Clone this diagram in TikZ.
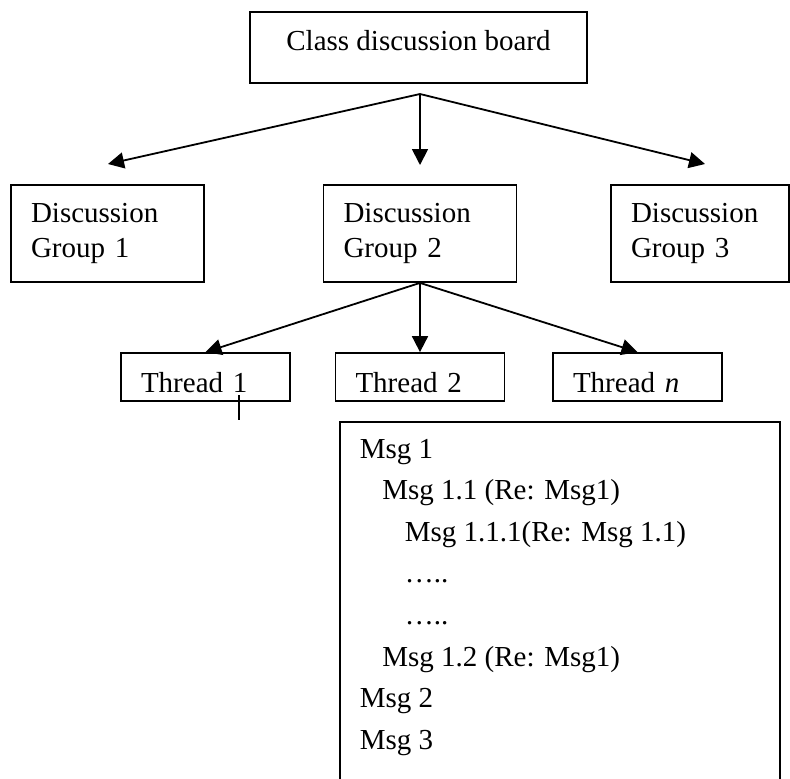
\documentclass[tikz,border=0pt]{standalone}
\usepackage{fontspec}
\setmainfont{Liberation Serif}
\usetikzlibrary{arrows.meta}

\begin{document}
\begin{tikzpicture}[x=0.5pt,y=-0.5pt,
        line width=0.9pt,
        box/.style={draw,inner xsep=10pt,inner ysep=0pt},
        groupbox/.style={box,align=left,minimum height=48.5pt,
            font=\fontsize{14.5}{17.5}\selectfont},
        threadbox/.style={box,align=left,text width=64.5pt,
            text height=19.5pt,text depth=4.5pt},
        msgline/.style={anchor=base west,inner sep=0pt},
        arr/.style={-{Triangle[length=8pt,width=8pt]}}]
    \fontsize{14.5}{17.5}\selectfont
    \useasboundingbox (0,0) rectangle (790,778);

    \node [box,inner ysep=9pt,text height=10pt,text depth=7.5pt,
        minimum width=168.5pt] (board) at (418.5,47.5) {Class discussion board};

    \node [groupbox,text width=76.5pt] (g1) at (107.5,233.5) {Discussion\\Group 1};
    \node [groupbox,text width=76.5pt] (g2) at (420,233.5) {Discussion\\Group 2};
    \node [groupbox,text width=69pt] (g3) at (700,233.5) {Discussion\\Group 3};

    \coordinate (fork) at (420,94);
    \coordinate (tip1) at (108,164);
    \coordinate (tip2) at (420,165);
    \coordinate (tip3) at (705,164);
    \draw [arr] (fork) -- (tip1);
    \draw [arr] (fork) -- (tip2);
    \draw [arr] (fork) -- (tip3);

    \node [threadbox] (t1) at (205.5,377) {Thread 1};
    \node [threadbox] (t2) at (420,377) {Thread 2};
    \node [threadbox] (tn) at (637.5,377) {Thread \textit{n}};

    \draw [arr] (g2.south) -- (t1.north);
    \draw [arr] (g2.south) -- (t2.north);
    \draw [arr] (g2.south) -- (tn.north);

    \draw (239,395) -- (239,420);

    \node [draw,anchor=north west,inner sep=0pt,minimum width=220pt,
        minimum height=189.5pt] (msgbox) at (339,421) {};
    \foreach \ind/\txt [count=\i from 0] in {0/Msg 1,1/Msg 1.1 (Re: Msg1),
            2/Msg 1.1.1(Re: Msg 1.1),2/…..,2/…..,1/Msg 1.2 (Re: Msg1),
            0/Msg 2,0/Msg 3}
        \node [msgline] (m\i) at (359+22.5*\ind,458+41.6*\i) {\txt};
\end{tikzpicture}
\end{document}
